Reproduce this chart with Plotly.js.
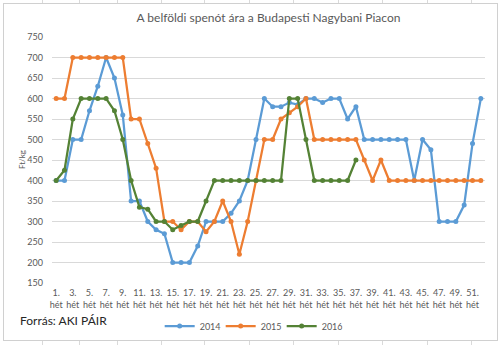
<!DOCTYPE html>
<html>
<head>
<meta charset="utf-8">
<script src="https://cdn.plot.ly/plotly-3.0.1.min.js"></script>
<style>
  html, body { margin: 0; padding: 0; background: #ffffff; }
  #sheet { position: absolute; left: 0; top: 0; width: 500px; height: 345px; overflow: hidden; background: #ffffff; }
  .vl { position: absolute; top: 0; width: 1px; height: 345px; background: #dadada; }
  #box { position: absolute; left: 3px; top: 3px; width: 493px; height: 336px; border: 1px solid #d0d0d0; background: #ffffff; }
  #chart { position: absolute; left: 0; top: 0; width: 500px; height: 345px; }
</style>
</head>
<body>
<div id="sheet">
  <div class="vl" style="left:42px"></div>
  <div class="vl" style="left:79px"></div>
  <div class="vl" style="left:117px"></div>
  <div class="vl" style="left:161px"></div>
  <div class="vl" style="left:204px"></div>
  <div class="vl" style="left:249px"></div>
  <div class="vl" style="left:293px"></div>
  <div class="vl" style="left:338px"></div>
  <div class="vl" style="left:382px"></div>
  <div class="vl" style="left:427px"></div>
  <div class="vl" style="left:471px"></div>
  <div id="box"></div>
  <div id="chart"></div>
</div>
<script>
// Weeks (categories)
const weeks = [1,2,3,4,5,6,7,8,9,10,11,12,13,14,15,16,17,18,19,20,21,22,23,24,25,26,
               27,28,29,30,31,32,33,34,35,36,37,38,39,40,41,42,43,44,45,46,47,48,49,50,51,52];

// Tick labels (every other week)
const tickWeeks = [1,3,5,7,9,11,13,15,17,19,21,23,25,27,29,31,33,35,37,39,41,43,45,47,49,51];
const tickLabels = ["1.<br>hét","3.<br>hét","5.<br>hét","7.<br>hét","9.<br>hét","11.<br>hét","13.<br>hét",
  "15.<br>hét","17.<br>hét","19.<br>hét","21.<br>hét","23.<br>hét","25.<br>hét","27.<br>hét","29.<br>hét",
  "31.<br>hét","33.<br>hét","35.<br>hét","37.<br>hét","39.<br>hét","41.<br>hét","43.<br>hét","45.<br>hét",
  "47.<br>hét","49.<br>hét","51.<br>hét"];

// Prices, Ft/kg
const price2014 = [400,400,500,500,570,630,700,650,560,350,350,300,280,270,200,200,200,240,300,300,
  300,320,350,400,500,600,580,580,590,585,600,600,590,600,600,550,580,500,500,500,
  500,500,500,400,500,475,300,300,300,340,490,600];
const price2015 = [600,600,700,700,700,700,700,700,700,550,550,490,430,300,300,280,300,300,275,300,
  350,300,220,300,400,500,500,550,565,580,600,500,500,500,500,500,500,450,400,450,
  400,400,400,400,400,400,400,400,400,400,400,400];
const price2016 = [400,425,550,600,600,600,600,570,500,400,335,330,300,300,280,290,300,300,350,400,
  400,400,400,400,400,400,400,400,600,600,500,400,400,400,400,400,450];

const seriesNames = ["2014","2015","2016"];
const colors = ["#5B9BD5","#ED7D31","#548235"];
const allSeries = [price2014, price2015, price2016];

const traces = allSeries.map((vals, i) => ({
  x: weeks.slice(0, vals.length),
  y: vals,
  name: seriesNames[i],
  type: "scatter",
  mode: "lines+markers",
  line: { color: colors[i], width: 2.25 },
  marker: { color: colors[i], size: 5 },
  cliponaxis: false
}));

const fontFam = "Lato, 'Open Sans', sans-serif";

const layout = {
  width: 500,
  height: 345,
  margin: { l: 52, r: 15, t: 37, b: 62, pad: 0, autoexpand: false },
  paper_bgcolor: "rgba(0,0,0,0)",
  plot_bgcolor: "rgba(0,0,0,0)",
  font: { family: fontFam, color: "#595959", size: 9 },
  title: {
    text: "A belföldi spenót ára a Budapesti Nagybani Piacon",
    font: { family: fontFam, size: 12, color: "#595959" },
    x: 0.5, xanchor: "center", xref: "paper",
    y: 0.947, yanchor: "middle", yref: "container"
  },
  xaxis: {
    range: [0.5, 52.5],
    tickmode: "array",
    tickvals: tickWeeks,
    ticktext: tickLabels,
    tickangle: 0,
    automargin: false,
    showgrid: false,
    zeroline: false,
    showline: false,
    ticks: "",
    ticklabelstandoff: 3,
    tickfont: { size: 9, color: "#595959", family: fontFam },
    fixedrange: true
  },
  yaxis: {
    range: [150, 750],
    dtick: 50,
    tick0: 150,
    automargin: false,
    showgrid: true,
    gridcolor: "#d9d9d9",
    gridwidth: 1,
    zeroline: false,
    showline: false,
    ticks: "",
    ticklabelstandoff: 8,
    tickfont: { size: 9, color: "#595959", family: fontFam },
    fixedrange: true
  },
  showlegend: true,
  legend: {
    orientation: "h",
    xref: "paper", x: 0.46, xanchor: "center",
    yref: "container", y: 0.055, yanchor: "middle",
    font: { size: 9, color: "#595959", family: fontFam },
    itemwidth: 30,
    entrywidth: 16,
    entrywidthmode: "pixels",
    tracegroupgap: 0,
    bgcolor: "rgba(0,0,0,0)"
  },
  annotations: [
    {
      text: "Ft/kg", xref: "paper", yref: "paper",
      x: -0.069, y: 0.5, xanchor: "center", yanchor: "middle",
      textangle: -90, showarrow: false,
      font: { size: 8, color: "#595959", family: fontFam }
    },
    {
      text: "Forrás: AKI PÁIR", xref: "paper", yref: "paper",
      x: -0.079, y: -0.154, xanchor: "left", yanchor: "middle",
      showarrow: false,
      font: { size: 12, color: "#262626", family: fontFam }
    }
  ]
};

Plotly.newPlot("chart", traces, layout, { displayModeBar: false, staticPlot: true });
</script>
</body>
</html>
